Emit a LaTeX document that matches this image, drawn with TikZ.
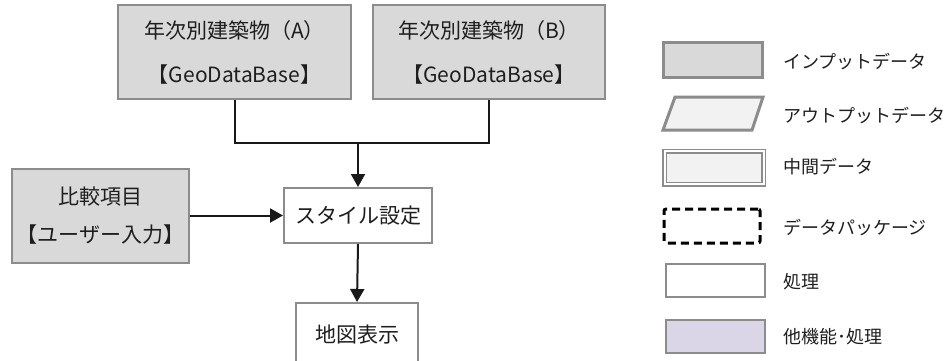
\documentclass[tikz,border=0pt]{standalone}
\usepackage{fontspec}
\setmainfont{Noto Sans CJK JP}
\usetikzlibrary{arrows.meta}
\definecolor{bordergray}{HTML}{8C8C8C}
\definecolor{infill}{HTML}{D9D9D9}
\definecolor{outfill}{HTML}{F2F2F2}
\definecolor{purplefill}{HTML}{DAD6E8}
\definecolor{txt}{HTML}{1E1E1E}
\tikzset{
  box/.style={draw=bordergray, line width=2pt, inner sep=0pt, text=txt, align=center},
  inbox/.style={box, fill=infill},
  procbox/.style={box, fill=white},
  conn/.style={draw=black!90, line width=2pt},
  arr/.style={conn, -{Triangle[length=13pt,width=14pt]}},
  legtext/.style={anchor=west, text=txt, font=\fontsize{18}{22}\selectfont, inner sep=0pt},
}
\begin{document}
\begin{tikzpicture}[x=1pt,y=-1pt]
\useasboundingbox (0,0) rectangle (952,360);
\clip (0,0) rectangle (952,360);
% main nodes
\node[inbox, minimum width=233, minimum height=94, font=\fontsize{21}{44}\selectfont] (A) at (234.5,52) {年次別建築物（A）\\【GeoDataBase】};
\node[inbox, minimum width=232, minimum height=94, font=\fontsize{21}{44}\selectfont] (B) at (489,52) {年次別建築物（B）\\【GeoDataBase】};
\node[inbox, minimum width=177, minimum height=94, font=\fontsize{21}{38}\selectfont] (C) at (100.5,216) {比較項目\\【ユーザー入力】};
\node[procbox, minimum width=148, minimum height=55, font=\fontsize{21}{24}\selectfont] (S) at (358,215.5) {スタイル設定};
\node[procbox, minimum width=122, minimum height=64, font=\fontsize{21}{24}\selectfont] (M) at (357,335) {地図表示};
\coordinate (J) at (358,143);
% connectors
\draw[conn] (A.south) |- (J);
\draw[conn] (B.south) |- (J);
\draw[arr] (J) -- (S.north);
\draw[arr] (C.east |- S.west) -- (S.west);
\draw[arr] (S.south) -- (M.north);
% legend
\node[box, fill=infill, line width=3pt, minimum width=99, minimum height=35] (L1) at (712.5,59.5) {};
\node[legtext] (T1) at (783,62) {インプットデータ};
\draw[draw=bordergray, line width=3pt, fill=outfill] (675,97) -- (763,97) -- (752,130) -- (663,130) -- cycle;
\coordinate (L2) at (713,113.5);
\node[legtext] (T2) at (783,115) {アウトプットデータ};
\node[draw=bordergray, line width=1.5pt, double=white, double distance=2pt, fill=outfill, inner sep=0pt, minimum width=99, minimum height=33] (L3) at (714,167.5) {};
\node[legtext] (T3) at (783,167) {中間データ};
\node[draw=black, line width=3pt, dash pattern=on 8pt off 5pt, rounded corners=2pt, inner sep=0pt, minimum width=96, minimum height=34] (L4) at (712,226) {};
\node[legtext] (T4) at (783,227) {データパッケージ};
\node[box, fill=white, minimum width=99, minimum height=33] (L5) at (715.5,280.5) {};
\node[legtext] (T5) at (783,282) {処理};
\node[box, fill=purplefill, minimum width=99, minimum height=33] (L6) at (715.5,336.5) {};
\node[legtext] (T6) at (783,337) {他機能･処理};
\end{tikzpicture}
\end{document}
